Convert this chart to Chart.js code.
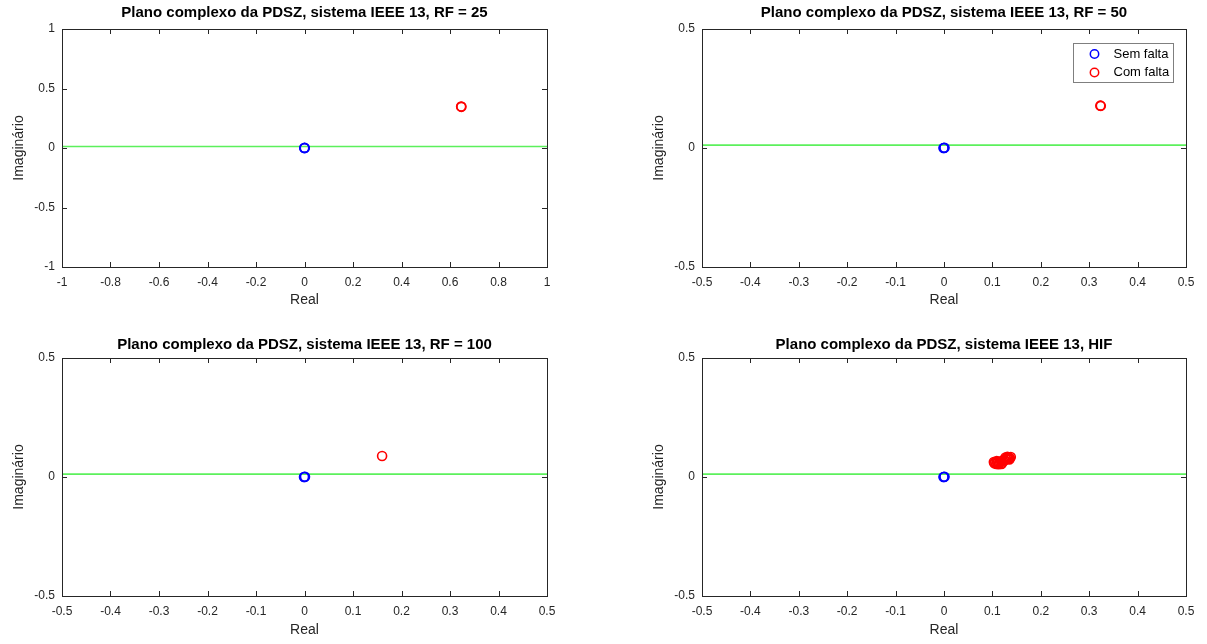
<!DOCTYPE html>
<html><head><meta charset="utf-8">
<script src="https://cdn.jsdelivr.net/npm/chart.js@4.4.1/dist/chart.umd.min.js"></script>
<style>
html,body{margin:0;padding:0;background:#fff;width:1207px;height:644px;overflow:hidden;}
.p{position:absolute;}
</style></head><body>
<div class="p" style="left:0;top:0;width:603px;height:322px"><canvas id="c1"></canvas></div>
<div class="p" style="left:640px;top:0;width:567px;height:322px"><canvas id="c2"></canvas></div>
<div class="p" style="left:0;top:329px;width:603px;height:315px"><canvas id="c3"></canvas></div>
<div class="p" style="left:640px;top:329px;width:567px;height:315px"><canvas id="c4"></canvas></div>
<script>
// ---- data ----
const titles = [
  "Plano complexo da PDSZ, sistema IEEE 13, RF = 25",
  "Plano complexo da PDSZ, sistema IEEE 13, RF = 50",
  "Plano complexo da PDSZ, sistema IEEE 13, RF = 100",
  "Plano complexo da PDSZ, sistema IEEE 13, HIF"
];
const legendLabels = ["Sem falta", "Com falta"];
const xLabel = "Real";
const yLabel = "Imaginário";
const semFalta = [{x:0,y:0},{x:0.001,y:0.001},{x:-0.001,y:0}];
const comFaltaRF25 = [{x:0.646,y:0.348},{x:0.647,y:0.346}];
const comFaltaRF50 = [{x:0.323,y:0.178},{x:0.324,y:0.177}];
const comFaltaRF100 = [{x:0.160,y:0.088}];
const comFaltaHIF = [
  {x:0.104,y:0.058},{x:0.106,y:0.062},{x:0.108,y:0.055},{x:0.110,y:0.060},
  {x:0.112,y:0.064},{x:0.109,y:0.067},{x:0.114,y:0.058},{x:0.116,y:0.062},
  {x:0.118,y:0.066},{x:0.113,y:0.054},{x:0.120,y:0.060},{x:0.122,y:0.068},
  {x:0.124,y:0.072},{x:0.126,y:0.070},{x:0.128,y:0.076},{x:0.130,y:0.080},
  {x:0.132,y:0.078},{x:0.134,y:0.082},{x:0.136,y:0.080},{x:0.138,y:0.084},
  {x:0.131,y:0.085},{x:0.135,y:0.074},{x:0.127,y:0.082},{x:0.119,y:0.055},
  {x:0.103,y:0.063}
];
const thresholdY = 0.012;
const xRanges = [[-1,1,0.2],[-0.5,0.5,0.1],[-0.5,0.5,0.1],[-0.5,0.5,0.1]];
const yRanges = [[-1,1,0.5],[-0.5,0.5,0.5],[-0.5,0.5,0.5],[-0.5,0.5,0.5]];
const faltaSets = [comFaltaRF25, comFaltaRF50, comFaltaRF100, comFaltaHIF];

// ---- rendering ----
const FONT = "'Liberation Sans', Arial, Helvetica, sans-serif";
const AX = '#262626';
const fmt = v => { const r = Math.round(v*100)/100; return (Object.is(r,-0)?0:r).toString(); };

const framePlugin = {
  id:'frame',
  afterDatasetsDraw(chart){
    const {ctx, chartArea:a, scales} = chart;
    ctx.save();
    ctx.strokeStyle = AX; ctx.lineWidth = 1;
    ctx.strokeRect(Math.round(a.left)+0.5, Math.round(a.top)+0.5, Math.round(a.right-a.left), Math.round(a.bottom-a.top));
    const L = 5;
    ctx.beginPath();
    scales.x.ticks.forEach(t=>{
      const px = Math.round(scales.x.getPixelForValue(t.value))+0.5;
      ctx.moveTo(px,a.bottom); ctx.lineTo(px,a.bottom-L);
      ctx.moveTo(px,a.top); ctx.lineTo(px,a.top+L);
    });
    scales.y.ticks.forEach(t=>{
      const py = Math.round(scales.y.getPixelForValue(t.value))+0.5;
      ctx.moveTo(a.left,py); ctx.lineTo(a.left+L,py);
      ctx.moveTo(a.right,py); ctx.lineTo(a.right-L,py);
    });
    ctx.stroke();
    // legend
    if (chart.options.plugins.boxLegend && chart.options.plugins.boxLegend.show){
      const ds = chart.data.datasets.filter(d=>d.label);
      const w = 100, h = 39;
      const x0 = Math.round(a.right - 13 - w)+0.5, y0 = Math.round(a.top + 14)+0.5;
      ctx.fillStyle = '#fff'; ctx.fillRect(x0,y0,w,h);
      ctx.strokeStyle = '#7f7f7f'; ctx.strokeRect(x0,y0,w,h);
      ctx.font = "13px " + FONT; ctx.textBaseline = 'middle'; ctx.textAlign='left';
      ds.forEach((d,i)=>{
        const cy = y0 + 10.5 + i*18.5;
        ctx.beginPath(); ctx.strokeStyle = d.borderColor; ctx.lineWidth = 1.5;
        ctx.arc(x0+21, cy, 4.2, 0, Math.PI*2); ctx.stroke();
        ctx.fillStyle = '#000'; ctx.fillText(d.label, x0+40, cy);
      });
    }
    ctx.restore();
  }
};

function make(id, i, xPadBottom, titlePad, xH, rightPad){
  const [xmin,xmax,xs] = xRanges[i];
  const [ymin,ymax,ys] = yRanges[i];
  new Chart(document.getElementById(id), {
    type:'scatter',
    data:{datasets:[
      {label:legendLabels[0], data:semFalta, borderColor:'#0000ff', backgroundColor:'rgba(0,0,0,0)', pointRadius:4.5, pointBorderWidth:1.6, order:1},
      {label:legendLabels[1], data:faltaSets[i], borderColor:'#ff0000', backgroundColor:'rgba(0,0,0,0)', pointRadius:4.5, pointBorderWidth:1.6, order:0},
      {label:'', type:'line', data:[{x:xmin,y:thresholdY},{x:xmax,y:thresholdY}], borderColor:'#5cf05c', borderWidth:1.6, pointRadius:0, order:5}
    ]},
    options:{
      responsive:true, maintainAspectRatio:false, animation:false,
      layout:{padding:{left:0,right:rightPad,top:0,bottom:0}},
      plugins:{
        legend:{display:false}, tooltip:{enabled:false},
        title:{display:true, text:titles[i], fullSize:false, color:'#000',
          font:{family:FONT, size:15, weight:'bold'}, padding:titlePad},
        boxLegend:{show: i===1}
      },
      scales:{
        x:{type:'linear', min:xmin, max:xmax,
           grid:{display:false, drawTicks:false, tickLength:0}, border:{display:false},
           ticks:{stepSize:xs, color:AX, font:{family:FONT,size:12}, padding:8, maxRotation:0, autoSkip:false, callback:fmt},
           title:{display:true, text:xLabel, color:AX, font:{family:FONT,size:14}, padding:{top:0,bottom:xPadBottom}},
           afterFit(s){ s.height = xH; }},
        y:{type:'linear', min:ymin, max:ymax,
           grid:{display:false, drawTicks:false, tickLength:0}, border:{display:false},
           ticks:{stepSize:ys, color:AX, font:{family:FONT,size:12}, padding:7, callback:fmt},
           title:{display:true, text:yLabel, color:AX, font:{family:FONT,size:14}, padding:{top:11,bottom:0}},
           afterFit(s){ s.width = 62; }}
      }
    },
    plugins:[framePlugin]
  });
}
make('c1',0,13,{top:4,bottom:7},55,56);
make('c2',1,13,{top:4,bottom:7},55,21);
make('c3',2,5,{top:7,bottom:4},48,56);
make('c4',3,5,{top:7,bottom:4},48,21);
</script>
</body></html>
